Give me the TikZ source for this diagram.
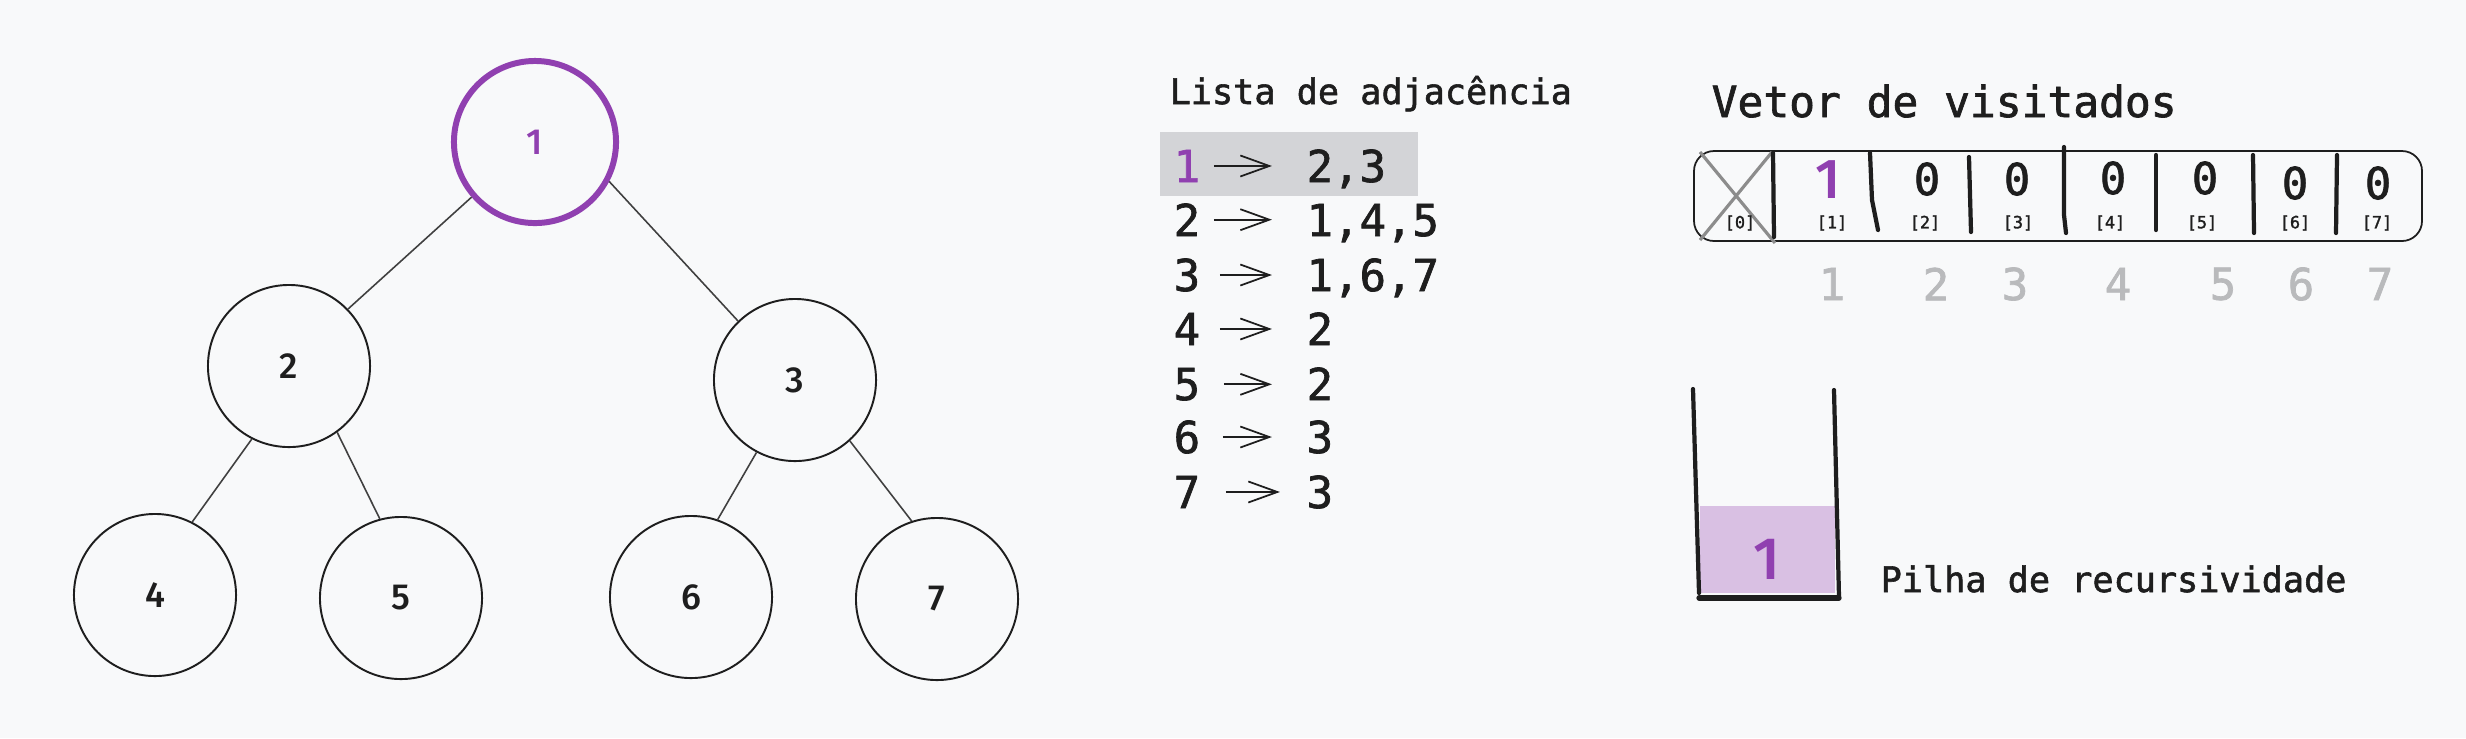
\documentclass[tikz,border=0pt]{standalone}
\usepackage{fontspec}
\setmonofont{DejaVu Sans Mono}[FakeBold=1.6]
\newfontfamily\labelfont{Fira Sans Medium}
\usetikzlibrary{positioning,arrows.meta}
\definecolor{bgcol}{HTML}{F8F9FA}
\definecolor{ink}{HTML}{1E1E1E}
\definecolor{purp}{HTML}{9040B0}
\definecolor{stackfill}{HTML}{D9C0E3}
\definecolor{hlgray}{HTML}{D3D4D7}
\definecolor{posgray}{HTML}{B9BABC}
\definecolor{crossgray}{HTML}{8C8C8C}

\begin{document}
\begin{tikzpicture}
        [x=0.01cm, y=-0.01cm,
         vertex/.style={circle, draw=ink, line width=0.55pt, minimum size=1.62cm, inner sep=0pt,
                        font=\labelfont\fontsize{10.3}{12}\selectfont, text=ink},
         root/.style={vertex, draw=purp, line width=1.7pt, text=purp},
         link/.style={draw=ink!85, line width=0.45pt},
         item/.style={inner sep=0pt, anchor=base west, font=\ttfamily\fontsize{12.5}{15}\selectfont, text=ink},
         title/.style={inner sep=0pt, anchor=base west, font=\ttfamily\fontsize{10}{12}\selectfont, text=ink},
         bit/.style={inner sep=0pt, font=\ttfamily\fontsize{12.5}{15}\selectfont, text=ink},
         markone/.style={inner sep=0pt, font=\labelfont\fontsize{16}{18}\selectfont, text=purp},
         idx/.style={inner sep=0pt, font=\ttfamily\fontsize{4.8}{6}\selectfont, text=ink},
         slotnum/.style={inner sep=0pt, font=\ttfamily\fontsize{12.5}{15}\selectfont, text=posgray},
         wall/.style={ink, line width=1.2pt, line cap=round},
         adj/.style={-{Straight Barb[length=2.9mm,width=2.1mm]}, ink, line width=0.5pt,
                     shorten <=1.3mm, shorten >=3.4mm}]

        \fill [bgcol] (0,0) rectangle (2466,738);

        % arvore
        \node [root]   (n1) at (535,142) {1};
        \node [vertex] (n2) at (289,366) {2};
        \node [vertex] (n3) at (795,380) {3};
        \node [vertex] (n4) at (155,595) {4};
        \node [vertex] (n5) at (401,598) {5};
        \node [vertex] (n6) at (691,597) {6};
        \node [vertex] (n7) at (937,599) {7};

        \draw [link] (n1.221) -- (n2.44);
        \draw [link] (n1.-28) -- (n3.134);
        \draw [link] (n2.243) -- (n4.63);
        \draw [link] (n2.-54) -- (n5.105);
        \draw [link] (n3.242) -- (n6.71);
        \draw [link] (n3.-48) -- (n7.108);

        % lista de adjacencia
        \fill [hlgray] (1160,132) rectangle (1418,196);
        \node [title] (lt) at (1169,104) {Lista de adjacência};

        \node [item, text=purp] (l1) at (1173,182) {1};
        \node [item] (l2) at (1173,236) {2};
        \node [item] (l3) at (1173,291) {3};
        \node [item] (l4) at (1173,345) {4};
        \node [item] (l5) at (1173,400) {5};
        \node [item] (l6) at (1173,453) {6};
        \node [item] (l7) at (1173,508) {7};

        \node [item] (v1) [base right=1.05cm of l1] {2,3};
        \node [item] (v2) [base right=1.05cm of l2] {1,4,5};
        \node [item] (v3) [base right=1.05cm of l3] {1,6,7};
        \node [item] (v4) [base right=1.05cm of l4] {2};
        \node [item] (v5) [base right=1.05cm of l5] {2};
        \node [item] (v6) [base right=1.05cm of l6] {3};
        \node [item] (v7) [base right=1.05cm of l7] {3};

        \draw [adj] (l1.east) -- (l1.east -| v1.west);
        \draw [adj] (l2.east) -- (l2.east -| v2.west);
        \draw [adj, shorten <=1.9mm] (l3.east) -- (l3.east -| v3.west);
        \draw [adj, shorten <=1.9mm] (l4.east) -- (l4.east -| v4.west);
        \draw [adj, shorten <=2.3mm] (l5.east) -- (l5.east -| v5.west);
        \draw [adj, shorten <=2.2mm] (l6.east) -- (l6.east -| v6.west);
        \draw [adj, shorten <=2.5mm, shorten >=2.6mm] (l7.east) -- (l7.east -| v7.west);

        % vetor de visitados
        \node [title, font=\ttfamily\fontsize{12.2}{14}\selectfont] (vt) at (1711,117) {Vetor de visitados};
        \draw [ink, line width=0.5pt, rounded corners=2mm] (1694,151) rectangle (2422,241);
        \draw [crossgray, line width=0.9pt] (1700,152) -- (1775,243);
        \draw [crossgray, line width=0.9pt] (1772,152) -- (1700,240);
        \draw [wall] (1773,153) -- (1774,237);
        \draw [wall] (1870,153) -- (1872,200) -- (1878,230);
        \draw [wall] (1969,157) -- (1971,232);
        \draw [wall] (2064,147) -- (2064,215) -- (2066,233);
        \draw [wall] (2156,155) -- (2156,230);
        \draw [wall] (2253,155) -- (2254,233);
        \draw [wall] (2337,155) -- (2336,233);

        \node [markone] (b1) at (1828,180) {1};
        \node [bit]   (b2) at (1927,179) {0};
        \node [bit]   (b3) at (2017,179) {0};
        \node [bit]   (b4) at (2113,178) {0};
        \node [bit]   (b5) at (2205,178) {0};
        \node [bit]   (b6) at (2295,183) {0};
        \node [bit]   (b7) at (2378,183) {0};

        \node [idx] (i0) at (1740,223) {[0]};
        \node [idx] (i1) at (1832,223) {[1]};
        \node [idx] (i2) at (1925,223) {[2]};
        \node [idx] (i3) at (2018,223) {[3]};
        \node [idx] (i4) at (2110,223) {[4]};
        \node [idx] (i5) at (2202,223) {[5]};
        \node [idx] (i6) at (2295,223) {[6]};
        \node [idx] (i7) at (2377,223) {[7]};

        \node [slotnum] (p1) at (1832,284) {1};
        \node [slotnum] (p2) at (1936,284) {2};
        \node [slotnum] (p3) at (2015,284) {3};
        \node [slotnum] (p4) at (2118,284) {4};
        \node [slotnum] (p5) at (2223,284) {5};
        \node [slotnum] (p6) at (2301,284) {6};
        \node [slotnum] (p7) at (2380,284) {7};

        % pilha de recursividade
        \fill [stackfill] (1700,506) rectangle (1835,593);
        \draw [wall] (1693,389) -- (1699,593);
        \draw [wall] (1834,390) -- (1839,597);
        \draw [wall, line width=1.5pt] (1699,598) -- (1839,598);
        \node [markone, font=\labelfont\fontsize{17}{20}\selectfont] (s1) at (1767,559) {1};
        \node [title] (st) at (1880,592) {Pilha de recursividade};

        \end{tikzpicture}
\end{document}
